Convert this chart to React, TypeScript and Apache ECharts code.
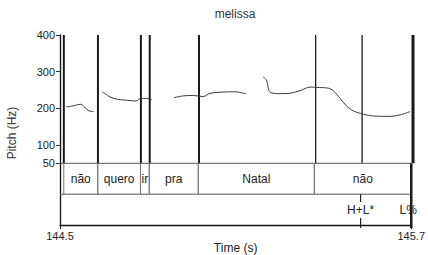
import React, { useEffect, useRef } from "react";
import * as echarts from "echarts";

// ---- data ----
const TIME_MIN = 144.5;
const TIME_MAX = 145.7;
const pitchTicks = [50, 100, 200, 300, 400];
const timeTicks = [144.5, 145.7];

const seg1Times = [144.5204, 144.541, 144.5704, 144.585, 144.5986, 144.6132];
const seg1Hz = [204, 206, 211, 202, 193, 191];
const seg2Times = [144.6438, 144.6553, 144.6676, 144.6927, 144.7267, 144.7584, 144.7743, 144.7947, 144.8117];
const seg2Hz = [245, 239, 232, 225, 222, 220, 227, 227, 224];
const seg3Times = [144.8875, 144.9191, 144.9531, 144.9871, 145.0099, 145.0439, 145.1007, 145.1177, 145.1323];
const seg3Hz = [229, 234, 235, 232, 241, 244, 245, 242, 240];
const seg4Times = [145.1911, 145.2027, 145.2139, 145.2479, 145.2819, 145.3159, 145.3499, 145.3726, 145.412, 145.429, 145.4518, 145.4746, 145.497, 145.531, 145.565, 145.6218, 145.6558, 145.6898];
const seg4Hz = [286, 275, 244, 240, 241, 248, 258, 257, 255, 248, 227, 206, 193, 184, 179, 178, 182, 191];

const words = ["não", "quero", "ir", "pra", "Natal", "não"];
const wordStarts = [144.513, 144.629, 144.775, 144.805, 144.9725, 145.369];
const wordEnds = [144.629, 144.775, 144.805, 144.9725, 145.369, 145.7];

const toneLabels = ["H+L*", "L%"];
const toneTimes = [145.527, 145.7];

const FONT = "'Liberation Sans', Arial, Helvetica, sans-serif";
const TEXT = "#222";

function pairs(ts: number[], vs: number[]) {
  return ts.map((t, i) => [t, vs[i]]);
}

export default function App() {
  const ref = useRef<HTMLDivElement>(null);
  useEffect(() => {
    if (!ref.current) return;
    const chart = echarts.init(ref.current, null, { renderer: "svg" });

    const segs = [
      pairs(seg1Times, seg1Hz),
      pairs(seg2Times, seg2Hz),
      pairs(seg3Times, seg3Hz),
      pairs(seg4Times, seg4Hz),
    ];

    const pitchBoundaries = [...wordStarts, ...toneTimes];

    const lineSeries = segs.map((d) => ({
      type: "line",
      xAxisIndex: 0,
      yAxisIndex: 0,
      data: d,
      smooth: 0.3,
      symbol: "none",
      silent: true,
      lineStyle: { color: "#3a3a3a", width: 1 },
    }));

    const option: any = {
      animation: false,
      textStyle: { fontFamily: FONT },
      graphic: [
        {
          type: "text",
          x: 235,
          y: 14,
          style: { text: "melissa", fill: "#333", font: `12px ${FONT}`, textAlign: "center", textVerticalAlign: "middle" },
        },
        {
          type: "text",
          x: 12,
          y: 133,
          rotation: Math.PI / 2,
          style: { text: "Pitch (Hz)", fill: "#333", font: `12px ${FONT}`, textAlign: "center", textVerticalAlign: "middle" },
        },
      ],
      grid: [
        { left: 60, width: 353, top: 35, height: 128.3 },
        { left: 60, width: 353, top: 163.3, height: 64 },
      ],
      xAxis: [
        { type: "value", gridIndex: 0, min: TIME_MIN, max: TIME_MAX, show: false },
        {
          type: "value",
          gridIndex: 1,
          min: TIME_MIN,
          max: TIME_MAX,
          axisLine: { show: true, onZero: false, lineStyle: { color: "#111", width: 1.3 } },
          axisTick: { show: true, customValues: timeTicks, length: 4, lineStyle: { color: "#111" } },
          axisLabel: {
            customValues: timeTicks,
            fontSize: 11,
            color: TEXT,
            margin: 5,
            fontFamily: FONT,
            formatter: (v: number) => v.toFixed(1),
          },
          splitLine: { show: false },
          name: "Time (s)",
          nameLocation: "middle",
          nameGap: 16,
          nameTextStyle: { fontSize: 12, color: TEXT, fontFamily: FONT },
        },
      ],
      yAxis: [
        {
          type: "value",
          gridIndex: 0,
          min: 50,
          max: 400,
          axisLine: { show: true, lineStyle: { color: "#111", width: 1.3 } },
          axisTick: { show: true, customValues: pitchTicks, length: 4, lineStyle: { color: "#333" } },
          axisLabel: { customValues: pitchTicks, fontSize: 11, color: TEXT, margin: 5, fontFamily: FONT },
          splitLine: { show: false },
        },
        {
          type: "value",
          gridIndex: 1,
          min: 0,
          max: 2,
          axisLine: { show: true, lineStyle: { color: "#111", width: 1.3 } },
          axisTick: { show: false },
          axisLabel: { show: false },
          splitLine: { show: false },
        },
      ],
      series: [
        ...lineSeries,
        // boundaries in pitch area
        {
          type: "custom",
          xAxisIndex: 0,
          yAxisIndex: 0,
          clip: false,
          silent: true,
          data: pitchBoundaries.map((t) => [t]),
          renderItem: (params: any, api: any) => {
            const t = api.value(0);
            const p1 = api.coord([t, 400]);
            const p2 = api.coord([t, 50]);
            const w = t >= TIME_MAX - 1e-6 ? 3 : t > 145.3 ? 1.3 : 2;
            return {
              type: "line",
              shape: { x1: p1[0], y1: p1[1], x2: p2[0], y2: p2[1] },
              style: { stroke: "#1a1a1a", lineWidth: w },
            };
          },
        },
        // tier horizontal lines
        {
          type: "custom",
          xAxisIndex: 1,
          yAxisIndex: 1,
          clip: false,
          silent: true,
          data: [[1], [2]],
          renderItem: (params: any, api: any) => {
            const y = api.value(0);
            const a = api.coord([TIME_MIN, y]);
            const b = api.coord([TIME_MAX, y]);
            return {
              type: "line",
              shape: { x1: a[0], y1: a[1], x2: b[0], y2: b[1] },
              style: { stroke: "#555", lineWidth: 1 },
            };
          },
        },
        // words tier
        {
          type: "custom",
          xAxisIndex: 1,
          yAxisIndex: 1,
          clip: false,
          silent: true,
          data: words.map((w, i) => [wordStarts[i], wordEnds[i], w]),
          renderItem: (params: any, api: any) => {
            const s = api.value(0);
            const e = api.value(1);
            const label = words[params.dataIndex];
            const s1 = api.coord([s, 2]);
            const s2 = api.coord([s, 1]);
            const e1 = api.coord([e, 2]);
            const e2 = api.coord([e, 1]);
            const c = api.coord([(s + e) / 2, 1.5]);
            const last = e >= TIME_MAX - 1e-6;
            return {
              type: "group",
              children: [
                { type: "line", shape: { x1: s1[0], y1: s1[1], x2: s2[0], y2: s2[1] }, style: { stroke: "#777", lineWidth: 1 } },
                {
                  type: "line",
                  shape: { x1: e1[0], y1: e1[1], x2: e2[0], y2: e2[1] },
                  style: { stroke: last ? "#1a1a1a" : "#777", lineWidth: last ? 2.5 : 1 },
                },
                {
                  type: "text",
                  x: c[0],
                  y: c[1],
                  style: { text: label, fill: TEXT, font: `12px ${FONT}`, textAlign: "center", textVerticalAlign: "middle" },
                },
              ],
            };
          },
        },
        // tones tier
        {
          type: "custom",
          xAxisIndex: 1,
          yAxisIndex: 1,
          clip: false,
          silent: true,
          data: toneTimes.map((t, i) => [t, toneLabels[i]]),
          renderItem: (params: any, api: any) => {
            const t = api.value(0);
            const label = toneLabels[params.dataIndex];
            const top = api.coord([t, 1]);
            const topEnd = api.coord([t, 0.75]);
            const botStart = api.coord([t, 0.23]);
            const bot = api.coord([t, 0]);
            const c = api.coord([t, 0.5]);
            const last = t >= TIME_MAX - 1e-6;
            const children: any[] = [];
            if (last) {
              children.push({
                type: "line",
                shape: { x1: top[0], y1: top[1], x2: bot[0], y2: bot[1] + 3 },
                style: { stroke: "#1a1a1a", lineWidth: 2.5 },
              });
            } else {
              children.push({
                type: "line",
                shape: { x1: top[0], y1: top[1], x2: topEnd[0], y2: topEnd[1] },
                style: { stroke: "#222", lineWidth: 1.2 },
              });
              children.push({
                type: "line",
                shape: { x1: botStart[0], y1: botStart[1], x2: bot[0], y2: bot[1] + 3 },
                style: { stroke: "#222", lineWidth: 1.2 },
              });
            }
            children.push({
              type: "text",
              x: c[0] - (last ? 3 : 0),
              y: c[1],
              style: { text: label, fill: TEXT, font: `12px ${FONT}`, textAlign: "center", textVerticalAlign: "middle" },
            });
            return { type: "group", children };
          },
        },
      ],
    };

    chart.setOption(option);
    return () => chart.dispose();
  }, []);

  return (
    <div
      ref={ref}
      style={{ position: "absolute", left: 0, top: 0, width: 428, height: 255, background: "#fff" }}
    />
  );
}
